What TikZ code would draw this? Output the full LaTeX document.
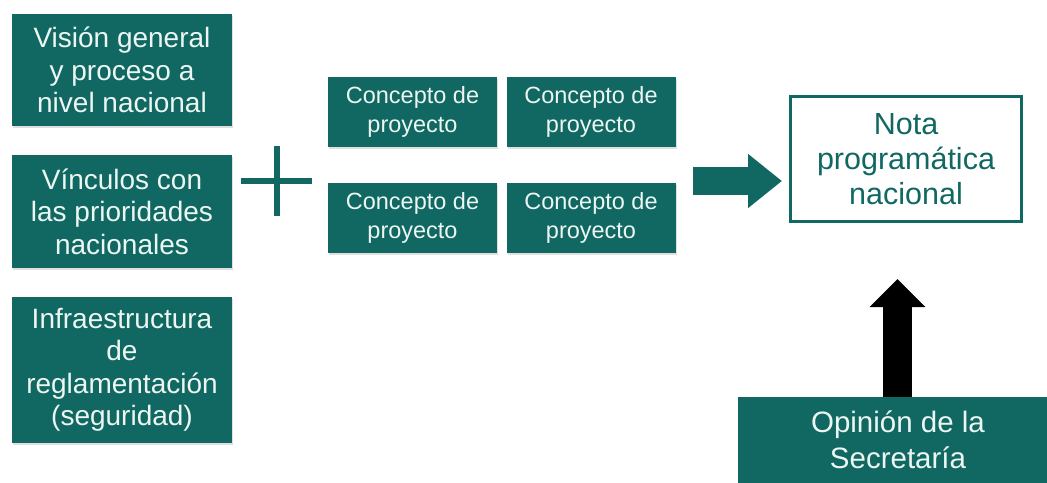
\documentclass[tikz,border=0pt]{standalone}
\usepackage{fontspec}
\setmainfont{Liberation Sans}
\usetikzlibrary{arrows.meta,shadows}
\definecolor{teal1}{RGB}{17,104,98}
\definecolor{txt}{RGB}{236,246,242}
\tikzset{
  gbox/.style={fill=teal1, text=txt, align=center, inner sep=0pt,
    drop shadow={opacity=0.25, shadow xshift=1pt, shadow yshift=-2pt}},
  bigtxt/.style={font=\fontsize{28}{32.5}\selectfont},
  cbox/.style={gbox, minimum width=169pt, minimum height=70pt, font=\fontsize{23.5}{29}\selectfont},
}
\begin{document}
\begin{tikzpicture}[x=1pt,y=-1pt]
\useasboundingbox (0,0) rectangle (1047,482);
\clip (0,0) rectangle (1047,482);
\fill[white] (0,0) rectangle (1047,482);
% left column
\node[gbox,bigtxt,minimum width=220pt,minimum height=112pt] (b1) at (122,70) {Visión general\\y proceso a\\nivel nacional};
\node[gbox,bigtxt,minimum width=220pt,minimum height=113pt] (b2) at (122,211.5) {Vínculos con\\las prioridades\\nacionales};
\node[gbox,bigtxt,minimum width=220pt,minimum height=146pt] (b3) at (122,370) {Infraestructura\\de\\reglamentación\\(seguridad)};
% plus
\coordinate (plus) at (276.5,181);
\draw[teal1, line width=6pt] ([xshift=-35.5pt]plus) -- ([xshift=35.5pt]plus);
\draw[teal1, line width=6pt] ([yshift=-35pt]plus) -- ([yshift=35pt]plus);
% concepts
\node[cbox] (c1) at (412.5,112) {Concepto de\\proyecto};
\node[cbox] (c2) at (591,111.5) {Concepto de\\proyecto};
\node[cbox] (c3) at (412.5,218) {Concepto de\\proyecto};
\node[cbox] (c4) at (591,218) {Concepto de\\proyecto};
% nota
\node[draw=teal1, line width=3pt, fill=white, text=teal1, align=center,
  minimum width=231pt, minimum height=125pt, inner sep=0pt,
  font=\fontsize{30.5}{35}\selectfont] (nota) at (906,159) {Nota\\programática\\nacional};
% opinion
\node[fill=teal1, text=txt, align=center, minimum width=320pt, minimum height=86pt,
  inner sep=0pt, font=\fontsize{29.5}{36.5}\selectfont] (op) at (898,440) {Opinión de la\\Secretaría};
% green block arrow
\coordinate (ga) at (693,181);
\coordinate (gb) at (782,181);
\draw[teal1, line width=28pt, -{Triangle[length=34pt,width=52pt]}] (ga) -- (gb);
% black block arrow
\coordinate (ba) at (897.5,397);
\coordinate (bb) at (897.5,279);
\draw[black, line width=29pt, -{Triangle[length=28pt,width=54pt]}] (op.north -| ba) -- (bb);
\end{tikzpicture}
\end{document}
